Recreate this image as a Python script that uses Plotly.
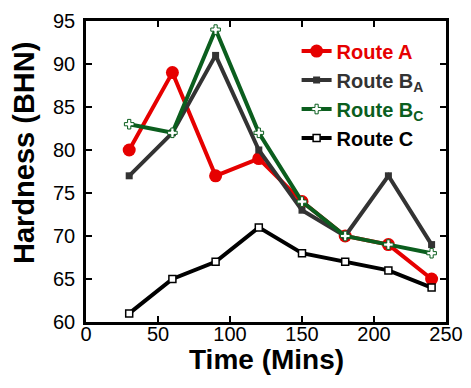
import plotly.graph_objects as go

time = [30, 60, 90, 120, 150, 180, 210, 240]
route_a = [80, 89, 77, 79, 74, 70, 69, 65]
route_ba = [77, 82, 91, 80, 73, 70, 77, 69]
route_bc = [83, 82, 94, 82, 74, 70, 69, 68]
route_c = [61, 65, 67, 71, 68, 67, 66, 64]

names = ["Route A", "Route B<sub>A</sub>", "Route B<sub>C</sub>", "Route C"]
colors = ["#e60000", "#333333", "#0b5e1e", "#000000"]

FONT = "Arial, Liberation Sans, sans-serif"
OFF = 8  # page body margin
W, H = 471 - OFF, 388 - OFF
L, R, T, B = 86 - OFF, 25, 21 - OFF, 66
PW, PH = W - L - R, H - T - B

fig = go.Figure()
fig.add_trace(go.Scatter(x=time, y=route_a, mode="lines+markers",
                         name=f"<b><span style='color:{colors[0]}'>{names[0]}</span></b>",
                         line=dict(color=colors[0], width=4),
                         marker=dict(symbol="circle", size=13, color=colors[0])))
fig.add_trace(go.Scatter(x=time, y=route_ba, mode="lines+markers",
                         name=f"<b><span style='color:{colors[1]}'>{names[1]}</span></b>",
                         line=dict(color=colors[1], width=4),
                         marker=dict(symbol="square", size=7, color=colors[1])))
fig.add_trace(go.Scatter(x=time, y=route_bc, mode="lines+markers",
                         name=f"<b><span style='color:{colors[2]}'>{names[2]}</span></b>",
                         line=dict(color=colors[2], width=4),
                         marker=dict(symbol="cross", size=8, color="white",
                                     line=dict(color=colors[2], width=1))))
fig.add_trace(go.Scatter(x=time, y=route_c, mode="lines+markers",
                         name=f"<b><span style='color:{colors[3]}'>{names[3]}</span></b>",
                         line=dict(color=colors[3], width=4),
                         marker=dict(symbol="square", size=7, color="white",
                                     line=dict(color=colors[3], width=1.5))))

axis_common = dict(showgrid=False, zeroline=False, showline=True, linecolor="black",
                   linewidth=2.5, mirror="ticks", ticks="inside", ticklen=6,
                   tickwidth=1.5, tickcolor="black", automargin=False,
                   tickfont=dict(family=FONT, size=20, color="black"))

fig.update_xaxes(range=[0, 250], tick0=0, dtick=50, ticklabelstandoff=-8, **axis_common)
fig.update_yaxes(range=[60, 95], tick0=60, dtick=5, ticklabelstandoff=4, **axis_common)

fig.update_layout(
    width=W, height=H,
    margin=dict(l=L, r=R, t=T, b=B, autoexpand=False),
    paper_bgcolor="white", plot_bgcolor="white",
    font=dict(family=FONT, color="black"),
    showlegend=True,
    legend=dict(x=0.585, y=0.965, xanchor="left", yanchor="top",
                bgcolor="rgba(0,0,0,0)", font=dict(family=FONT, size=20),
                tracegroupgap=0),
)
fig.add_annotation(text="<b>Time (Mins)</b>", xref="paper", yref="paper",
                   x=0.5, y=-(359 - 322) / PH, showarrow=False,
                   xanchor="center", yanchor="middle",
                   font=dict(family=FONT, size=28, color="black"))
fig.add_annotation(text="<b>Hardness (BHN)</b>", xref="paper", yref="paper",
                   x=-(86 - 24) / PW, y=(322 - 153) / PH, showarrow=False,
                   xanchor="center", yanchor="middle", textangle=-90,
                   font=dict(family=FONT, size=29, color="black"))

fig.write_html("out.html")
